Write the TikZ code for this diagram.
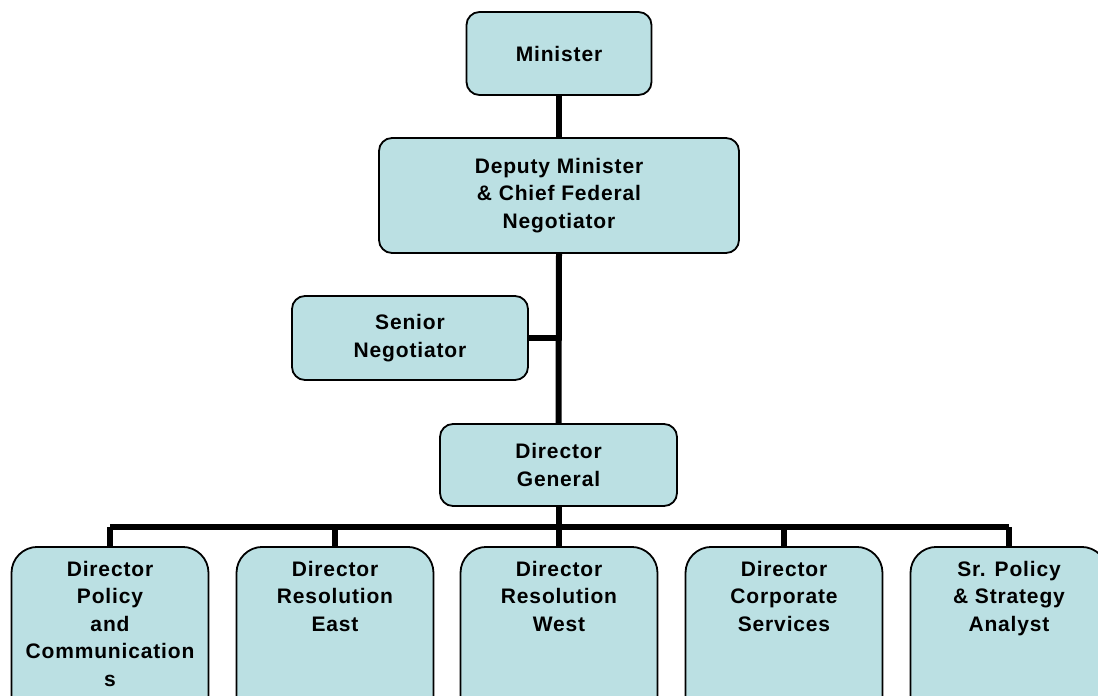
\documentclass[tikz,border=0pt]{standalone}
\usepackage{fontspec}
\setmainfont{Liberation Sans}[LetterSpace=4]
\usetikzlibrary{positioning}
\definecolor{boxblue}{HTML}{BBE0E3}

\begin{document}
\begin{tikzpicture}[x=1pt,y=-1pt,
    post/.style={draw=black,line width=1.8pt,fill=boxblue,rounded corners=13pt,align=center,
        font=\bfseries\fontsize{21}{27.5}\selectfont,inner sep=0pt},
    leaf/.style={post,rounded corners=26pt,anchor=north,minimum width=197pt,inner ysep=14pt},
    link/.style={line width=6pt}]
                \useasboundingbox (0,0) rectangle (1098,696);
                \clip (0,0) rectangle (1098,696);

                % top of the chart
                \node[post,minimum width=185pt,minimum height=83pt] (min) at (559,53.5) {Minister};
                \node[post,minimum width=360pt,minimum height=115pt] (dep) at (559,195.5) {Deputy Minister\\\& Chief Federal\\Negotiator};
                \node[post,minimum width=236pt,minimum height=84pt] (sen) at (410,338) {Senior\\Negotiator};
                \node[post,minimum width=237pt,minimum height=82pt] (dg) at (558.5,465) {Director\\General};

                % directors
                \node[leaf] (dpc) at (110,546) {\parbox[b][160pt][t]{195pt}{\centering Director\\Policy\\and\\Communication\\s}};
                \node[leaf] (dre) at (335,546) {\parbox[b][160pt][t]{195pt}{\centering Director\\Resolution\\East}};
                \node[leaf] (drw) at (559,546) {\parbox[b][160pt][t]{195pt}{\centering Director\\Resolution\\West}};
                \node[leaf] (dcs) at (784,546) {\parbox[b][160pt][t]{195pt}{\centering Director\\Corporate\\Services}};
                \node[leaf] (psa) at (1009,546) {\parbox[b][160pt][t]{195pt}{\centering Sr. Policy\\\& Strategy\\Analyst}};

                \coordinate (bus) at (559,527);

                \draw[link] (min.south) -- (dep.north);
                \draw[link] (dep.south) -- (dg.north);
                \draw[link] (sen.east) -- (sen.east -| dep.south);
                \draw[link] (dg.south) -- (dg.south |- bus);
                \draw[link] (dpc.north |- bus) -- (psa.north |- bus);
                \foreach \d in {dpc,dre,drw,dcs,psa}
                    \draw[link] (\d.north |- bus) -- (\d.north);

            \end{tikzpicture}
\end{document}
